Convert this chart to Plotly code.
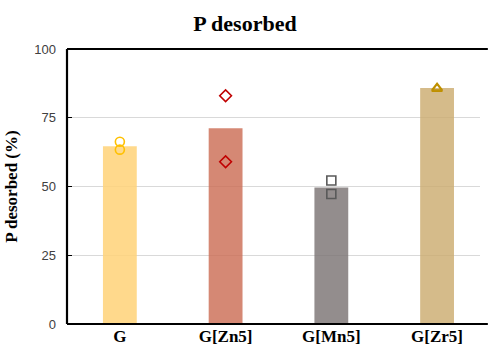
import plotly.graph_objects as go

categories = ["G", "G[Zn5]", "G[Mn5]", "G[Zr5]"]
bar_values = [64.6, 71.2, 49.6, 85.8]
rep1 = [66.3, 83.0, 52.2, 85.5]
rep2 = [63.4, 59.0, 47.3, 85.9]
tick_vals = [0, 25, 50, 75, 100]
tick_text = ["0", "25", "50", "75", "100"]

bar_colors = ["rgba(255,210,120,0.85)", "rgba(204,110,85,0.82)",
              "rgba(120,112,112,0.8)", "rgba(204,172,112,0.82)"]
marker_colors = ["#FFC000", "#C00000", "#595959", "#BF9000"]
marker_symbols = ["circle-open", "diamond-open", "square-open", "triangle-up-open"]

fig = go.Figure()
fig.add_trace(go.Bar(x=categories, y=bar_values, marker=dict(color=bar_colors, line=dict(width=0)),
                     width=0.32, showlegend=False, hoverinfo="skip"))
for i, c in enumerate(categories):
    fig.add_trace(go.Scatter(
        x=[c, c], y=[rep1[i], rep2[i]], mode="markers", showlegend=False,
        marker=dict(symbol=marker_symbols[i], size=9, color=marker_colors[i],
                    line=dict(width=1.6, color=marker_colors[i]))))

axis_line = dict(color="black", width=2.2)
fig.update_layout(
    width=490, height=355,
    margin=dict(l=67, r=10, t=49, b=31),
    paper_bgcolor="white", plot_bgcolor="white",
    title=dict(text="<b>P desorbed</b>", x=0.5, xanchor="center", y=0.935, yanchor="middle",
               font=dict(family="Liberation Serif", size=22, color="black")),
    bargap=0.5,
    shapes=[
        dict(type="line", xref="paper", yref="paper", x0=0, x1=1.019, y0=1, y1=1, line=axis_line, layer="above"),
        dict(type="line", xref="paper", yref="paper", x0=0, x1=1.019, y0=0, y1=0, line=axis_line, layer="above"),
        dict(type="line", xref="paper", yref="paper", x0=0, x1=0, y0=0, y1=1, line=axis_line, layer="above"),
    ],
)
fig.update_xaxes(
    showline=False, ticks="", range=[-0.5, 3.406],
    tickfont=dict(family="Liberation Serif", size=17, color="black"),
    tickprefix="<b>", ticksuffix="</b>", showgrid=False, zeroline=False,
)
fig.update_yaxes(
    range=[0, 100], tickvals=tick_vals, ticktext=tick_text,
    showline=False,
    ticks="inside", ticklen=5, tickcolor="black", tickwidth=1,
    ticklabelstandoff=10,
    tickfont=dict(family="Liberation Sans", size=13, color="#404040"),
    showgrid=True, gridcolor="#D9D9D9", gridwidth=1, zeroline=False,
    title=dict(text="<b>P desorbed (%)</b>", standoff=12,
               font=dict(family="Liberation Serif", size=17, color="black")),
)
fig.write_html("out.html")
